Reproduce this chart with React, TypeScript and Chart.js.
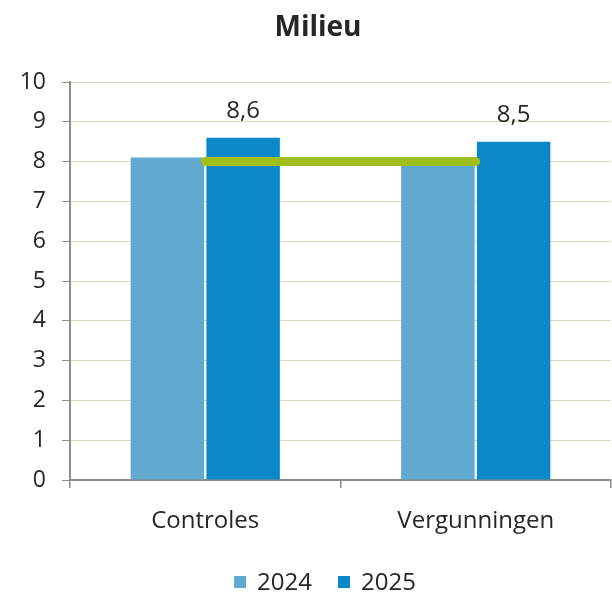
import React, { useEffect, useRef } from "react";
import { Chart, registerables } from "chart.js";

Chart.register(...registerables);

const TITLE = "Milieu";
const categories = ["Controles", "Vergunningen"];
const series2024 = [8.1, 8.0];
const series2025 = [8.6, 8.5];
const targetLine = [8, 8];
const yTicks = [0, 1, 2, 3, 4, 5, 6, 7, 8, 9, 10];
const legendLabels = ["2024", "2025"];

const FONT = "'Open Sans', 'DejaVu Sans', sans-serif";
const C2024 = "#62A9D0";
const C2025 = "#0A88C8";
const CLINE = "#A0BF1A";
const TEXT = "#262626";
const AXIS = "#8C8C8C";
const GRID = "#D9DCB4";

const overlayPlugin = {
  id: "overlay",
  afterDraw(chart: any) {
    const ctx = chart.ctx;
    ctx.save();
    // Title
    ctx.font = `bold 28px ${FONT}`;
    ctx.fillStyle = TEXT;
    ctx.textAlign = "center";
    ctx.textBaseline = "middle";
    ctx.fillText(TITLE, 318, 28);

    // Data labels for 2025
    const meta = chart.getDatasetMeta(1);
    ctx.font = `24px ${FONT}`;
    meta.data.forEach((bar: any, i: number) => {
      const v = series2025[i];
      ctx.fillText(v.toFixed(1).replace(".", ","), bar.x, bar.y - 27);
    });

    // Legend
    ctx.font = `24px ${FONT}`;
    const colors = [C2024, C2025];
    const box = 12;
    const gapBox = 11;
    const gapItem = 26;
    const widths = legendLabels.map((l) => ctx.measureText(l).width);
    const total =
      widths.reduce((a, b) => a + b, 0) + legendLabels.length * (box + gapBox) + gapItem * (legendLabels.length - 1);
    let x = 325 - total / 2;
    const y = 582;
    ctx.textAlign = "left";
    legendLabels.forEach((l, i) => {
      ctx.fillStyle = colors[i];
      ctx.fillRect(x, y - box / 2, box, box);
      x += box + gapBox;
      ctx.fillStyle = TEXT;
      ctx.fillText(l, x, y + 1);
      x += widths[i] + gapItem;
    });
    ctx.restore();
  },
};

export default function App() {
  const ref = useRef<HTMLCanvasElement>(null);
  useEffect(() => {
    if (!ref.current) return;
    const chart = new Chart(ref.current, {
      type: "bar",
      data: {
        labels: categories,
        datasets: [
          {
            type: "bar",
            label: legendLabels[0],
            data: series2024,
            backgroundColor: C2024,
            categoryPercentage: 0.56,
            barPercentage: 0.97,
            order: 2,
          },
          {
            type: "bar",
            label: legendLabels[1],
            data: series2025,
            backgroundColor: C2025,
            categoryPercentage: 0.56,
            barPercentage: 0.97,
            order: 2,
          },
          {
            type: "line",
            label: "Norm",
            data: targetLine,
            borderColor: CLINE,
            backgroundColor: CLINE,
            borderWidth: 9,
            pointRadius: 0,
            borderCapStyle: "round",
            fill: false,
            order: 0,
          } as any,
        ],
      },
      options: {
        animation: false,
        responsive: true,
        maintainAspectRatio: false,
        layout: { padding: { top: 82, right: 1, bottom: 0, left: 0 } },
        plugins: {
          legend: { display: false },
          title: { display: false },
          tooltip: { enabled: false },
        },
        scales: {
          x: {
            offset: true,
            grid: {
              offset: true,
              drawOnChartArea: false,
              drawTicks: true,
              tickLength: 8,
              tickColor: AXIS,
              lineWidth: 1.5,
            },
            border: { color: AXIS, width: 2 },
            ticks: {
              font: { family: FONT, size: 24 },
              color: TEXT,
              padding: 19,
            },
            afterFit: (s: any) => {
              s.height = 112;
            },
          },
          y: {
            min: 0,
            max: 10,
            afterBuildTicks: (s: any) => {
              s.ticks = yTicks.map((v) => ({ value: v }));
            },
            grid: {
              color: GRID,
              lineWidth: 1,
              tickColor: AXIS,
              tickLength: 8,
            },
            border: { color: AXIS, width: 2 },
            ticks: {
              font: { family: FONT, size: 23 },
              color: TEXT,
              padding: 16,
            },
            afterFit: (s: any) => {
              s.width = 70;
            },
          },
        },
      },
      plugins: [overlayPlugin],
    });
    return () => chart.destroy();
  }, []);
  return (
    <div style={{ position: "fixed", left: 0, top: 0, width: 612, height: 592, background: "#fff" }}>
      <canvas ref={ref} style={{ display: "block" }} />
    </div>
  );
}
